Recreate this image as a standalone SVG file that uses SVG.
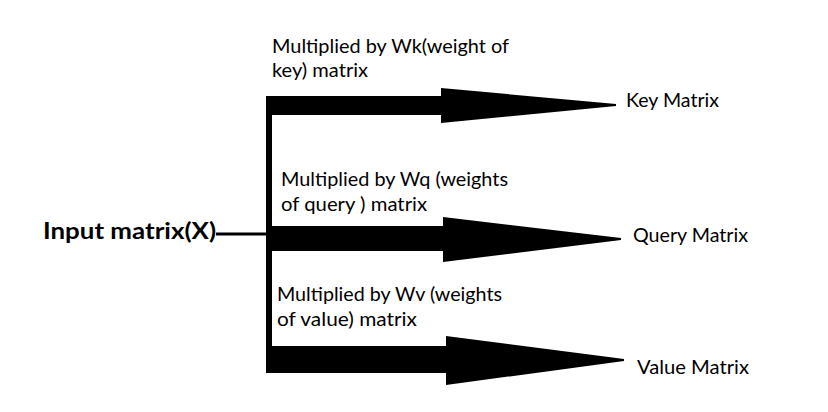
<svg xmlns="http://www.w3.org/2000/svg" width="828" height="412" viewBox="0 0 828 412">
<style>
.lbl{font-family:Lato,"Open Sans","Liberation Sans",sans-serif;font-size:19px;fill:#000}
.in{font-family:Lato,"Open Sans","Liberation Sans",sans-serif;font-size:23px;font-weight:bold;fill:#000}
.ar{fill:#000}
</style>
<rect width="828" height="412" fill="#fff"/>
<g id="input">
<text class="in" x="43" y="239" textLength="173" lengthAdjust="spacingAndGlyphs">Input matrix(X)</text>
</g>
<g id="connectors">
<line x1="216" y1="234" x2="268" y2="234" stroke="#000" stroke-width="3"/>
<rect class="ar" x="266" y="96" width="6" height="277"/>
<rect class="ar" x="266" y="96" width="177" height="19"/>
<polygon class="ar" points="441,88 616,104 616,106 441,123"/>
<rect class="ar" x="266" y="226" width="179" height="25"/>
<polygon class="ar" points="443,217 621,238 621,240 443,262"/>
<rect class="ar" x="266" y="346" width="182" height="27"/>
<polygon class="ar" points="446,336 624,359 624,361 446,385"/>
</g>
<g id="label-key">
<text class="lbl" x="272" y="53" textLength="237" lengthAdjust="spacingAndGlyphs">Multiplied by Wk(weight of</text>
<text class="lbl" x="272" y="77" textLength="96" lengthAdjust="spacingAndGlyphs">key) matrix</text>
</g>
<g id="label-query">
<text class="lbl" x="281" y="186" textLength="227" lengthAdjust="spacingAndGlyphs">Multiplied by Wq (weights</text>
<text class="lbl" x="281" y="211" textLength="146" lengthAdjust="spacingAndGlyphs">of query ) matrix</text>
</g>
<g id="label-value">
<text class="lbl" x="277" y="301" textLength="225" lengthAdjust="spacingAndGlyphs">Multiplied by Wv (weights</text>
<text class="lbl" x="277" y="326" textLength="140" lengthAdjust="spacingAndGlyphs">of value) matrix</text>
</g>
<g id="key-matrix">
<text class="lbl" x="626" y="107" textLength="93" lengthAdjust="spacingAndGlyphs">Key Matrix</text>
</g>
<g id="query-matrix">
<text class="lbl" x="633" y="242" textLength="115" lengthAdjust="spacingAndGlyphs">Query Matrix</text>
</g>
<g id="value-matrix">
<text class="lbl" x="637" y="374" textLength="112" lengthAdjust="spacingAndGlyphs">Value Matrix</text>
</g>
</svg>
